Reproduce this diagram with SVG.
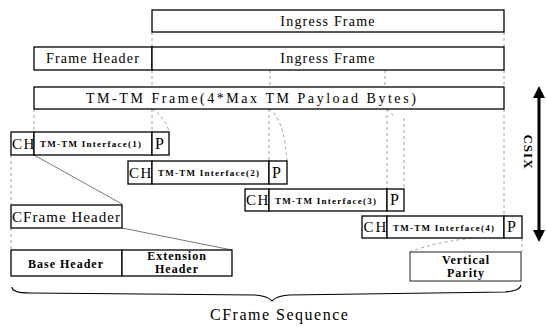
<svg xmlns="http://www.w3.org/2000/svg" width="546" height="327" viewBox="0 0 546 327">
<defs>
<style>
.box{fill:#fff;stroke:#000;stroke-width:1.3}
.vp{fill:#fff;stroke:#333;stroke-width:1.1}
.guide{fill:none;stroke:#888;stroke-width:0.8;stroke-dasharray:3 3}
.t{font-family:"Liberation Serif","Times New Roman",serif;fill:#000}
.lbl{font-size:14px;letter-spacing:1.2px}
.big{font-size:16px}
.ch{font-size:15px}
.ifc{font-size:9px;font-weight:bold}
.bh{font-size:12px;font-weight:bold;letter-spacing:1px}
.ax{fill:none;stroke:#000;stroke-width:3}
</style>
<marker id="ah" viewBox="0 0 10 10" refX="5" refY="5" markerWidth="4" markerHeight="5" orient="auto-start-reverse" markerUnits="strokeWidth">
<path d="M0,0 L10,5 L0,10 z" fill="#000"/>
</marker>
</defs>
<rect width="546" height="327" fill="#fff"/>
<g id="connectors">
<path class="guide" d="M152,32 V47 M270,70 V87 M152,70 V87 M385,70 V87 M504,32 V47 M504,70 V87"/>
<path class="guide" d="M34,109 V132 M152,109 V132 M152,109 Q166,118 169,132"/>
<path class="guide" d="M269,109 V161 M269,109 Q284,118 287,161"/>
<path class="guide" d="M387,109 L395,117 M404,118 V189 M387,109 V189"/>
<path class="guide" d="M504,109 V216 M522,238 V252 M410,252 Q440,240 486,237"/>
<path class="guide" d="M11,155 V204 M11,228 V250"/>
<path fill="none" stroke="#555" stroke-width="0.8" d="M34,155 L122,204 M122,228 L232,250"/>
<line class="ax" x1="539" y1="92" x2="539" y2="236" marker-start="url(#ah)" marker-end="url(#ah)"/>
<path fill="none" stroke="#000" stroke-width="1.2" d="M12,287 Q12,293 30,293 L255,295 Q268,296 272,301 Q276,296 289,295 L505,292 Q520,291 521,285"/>
</g>
<g id="ingress-top">
<rect class="box" x="152" y="10" width="352" height="22"/>
<text class="t lbl" x="328" y="26" text-anchor="middle">Ingress Frame</text>
</g>
<g id="frame-header">
<rect class="box" x="34" y="47" width="118" height="23"/>
<text class="t lbl" x="93" y="63" text-anchor="middle">Frame Header</text>
</g>
<g id="ingress-2">
<rect class="box" x="152" y="47" width="352" height="23"/>
<text class="t lbl" x="328" y="63" text-anchor="middle">Ingress Frame</text>
</g>
<g id="tm-frame">
<rect class="box" x="34" y="87" width="470" height="22"/>
<text class="t lbl" x="86" y="103" textLength="331" lengthAdjust="spacing">TM-TM Frame(4*Max TM Payload Bytes)</text>
</g>
<g id="if1">
<rect class="box" x="11" y="132" width="23" height="23"/>
<rect class="box" x="34" y="132" width="118" height="23"/>
<rect class="box" x="152" y="132" width="17" height="23"/>
<text class="t ch" x="12 23.5" y="149">CH</text>
<text class="t ifc" x="40" y="147" textLength="101" lengthAdjust="spacing">TM-TM Interface(1)</text>
<text class="t big" x="155" y="149">P</text>
</g>
<g id="if2">
<rect class="box" x="128" y="161" width="24" height="23"/>
<rect class="box" x="152" y="161" width="117" height="23"/>
<rect class="box" x="269" y="161" width="18" height="23"/>
<text class="t ch" x="129 140.5" y="178">CH</text>
<text class="t ifc" x="158" y="176" textLength="101" lengthAdjust="spacing">TM-TM Interface(2)</text>
<text class="t big" x="272" y="178">P</text>
</g>
<g id="if3">
<rect class="box" x="245" y="189" width="24" height="22"/>
<rect class="box" x="269" y="189" width="118" height="22"/>
<rect class="box" x="387" y="189" width="17" height="22"/>
<text class="t ch" x="246 257.5" y="205">CH</text>
<text class="t ifc" x="275" y="204" textLength="101" lengthAdjust="spacing">TM-TM Interface(3)</text>
<text class="t big" x="390" y="205">P</text>
</g>
<g id="if4">
<rect class="box" x="362" y="216" width="25" height="22"/>
<rect class="box" x="387" y="216" width="117" height="22"/>
<rect class="box" x="504" y="216" width="18" height="22"/>
<text class="t ch" x="363.5 375.5" y="232">CH</text>
<text class="t ifc" x="393" y="231" textLength="101" lengthAdjust="spacing">TM-TM Interface(4)</text>
<text class="t big" x="507" y="232">P</text>
</g>
<g id="cframe-header">
<rect class="box" x="11" y="205" width="111" height="23"/>
<text class="t" x="12" y="222" font-size="15" textLength="108" lengthAdjust="spacing">CFrame Header</text>
</g>
<g id="base-header">
<rect class="box" x="11" y="250" width="111" height="26"/>
<text class="t bh" x="66" y="268" text-anchor="middle">Base Header</text>
</g>
<g id="extension-header">
<rect class="box" x="122" y="250" width="110" height="26"/>
<text class="t bh" font-size="10.5" x="177" y="260" text-anchor="middle">Extension</text>
<text class="t bh" font-size="10.5" x="177" y="273" text-anchor="middle">Header</text>
</g>
<g id="vertical-parity">
<rect class="vp" x="410" y="252" width="111" height="29"/>
<text class="t bh" font-size="10.5" x="466" y="264" text-anchor="middle">Vertical</text>
<text class="t bh" font-size="10.5" x="466" y="277" text-anchor="middle">Parity</text>
</g>
<g id="csix">
<text class="t" font-size="13" font-weight="bold" letter-spacing="1" transform="translate(524,152) rotate(90)" text-anchor="middle">CSIX</text>
</g>
<g id="cframe-sequence">
<text class="t" font-size="16" x="210" y="320" letter-spacing="1.5">CFrame Sequence</text>
</g>
</svg>
